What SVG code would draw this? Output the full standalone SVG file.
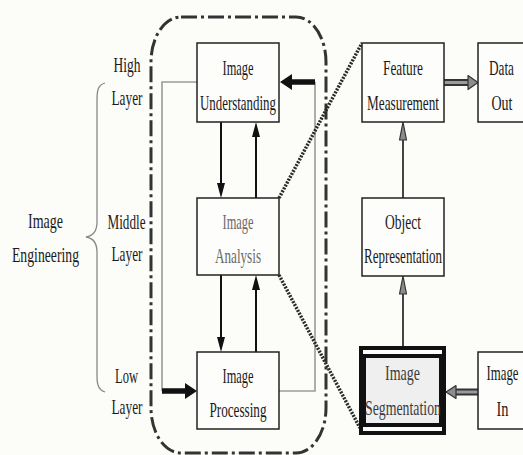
<svg xmlns="http://www.w3.org/2000/svg" width="523" height="455" viewBox="0 0 523 455">
<defs>
<style>
.box{fill:#fdfdfb;stroke:#222;stroke-width:1.5}
.t{font-family:"Liberation Serif","Times New Roman",serif;font-size:21px;text-anchor:middle;fill:#1a1a1a}
.ta{fill:#6a6a6a}
.ts{fill:#3c3c3c}
.gl{fill:none;stroke:#9a9a9a;stroke-width:1.6}
.bl{fill:none;stroke:#111;stroke-width:2}
.thk{fill:none;stroke:#111;stroke-width:5.5}
.gr{fill:none;stroke:#444;stroke-width:2}
.dot{fill:none;stroke:#2a2a2a;stroke-width:3.5;stroke-dasharray:2 1.3}
.dbo{fill:none;stroke:#333;stroke-width:7}
.dbi{fill:none;stroke:#9a9a9a;stroke-width:3}
.ghead{fill:#8c8c8c;stroke:#333;stroke-width:1.2;stroke-linejoin:round}
</style>
<marker id="ab" markerUnits="userSpaceOnUse" markerWidth="15" markerHeight="8" refX="7" refY="4" orient="auto">
<path d="M0,0 L15,4 L0,8 z" fill="#111"/>
</marker>
<marker id="ag" markerUnits="userSpaceOnUse" markerWidth="20" markerHeight="10" refX="9" refY="5" orient="auto">
<path d="M1,1.5 L19,5 L1,8.5 z" fill="#8c8c8c" stroke="#333" stroke-width="1.2" stroke-linejoin="round"/>
</marker>
</defs>
<rect x="0" y="0" width="523" height="455" fill="#fcfcf9"/>

<g id="frame">
<rect x="151" y="17" width="175" height="436" rx="30" ry="45" fill="none" stroke="#333" stroke-width="3" stroke-dasharray="16 4 3 4"/>
</g>

<g id="brace">
<path d="M105,83 C98,85 97,90 97,100 L97,222 C97,232 92,236 86,237 C92,238 97,242 97,252 L97,376 C97,386 99,390 105,392" fill="none" stroke="#888" stroke-width="1.3"/>
</g>

<g id="labels">
<text class="t" x="45.5" y="228" textLength="35" lengthAdjust="spacingAndGlyphs">Image</text>
<text class="t" x="45.5" y="262" textLength="67" lengthAdjust="spacingAndGlyphs">Engineering</text>
<text class="t" x="127" y="72" textLength="27" lengthAdjust="spacingAndGlyphs">High</text>
<text class="t" x="127" y="105" textLength="31" lengthAdjust="spacingAndGlyphs">Layer</text>
<text class="t" x="126.5" y="229" textLength="38" lengthAdjust="spacingAndGlyphs">Middle</text>
<text class="t" x="127" y="261" textLength="31" lengthAdjust="spacingAndGlyphs">Layer</text>
<text class="t" x="126.5" y="383" textLength="23" lengthAdjust="spacingAndGlyphs">Low</text>
<text class="t" x="127" y="414" textLength="31" lengthAdjust="spacingAndGlyphs">Layer</text>
</g>

<g id="connectors">
<polyline class="gl" points="197,82 162,82 162,391"/>
<polyline class="gl" points="279,391 315,391 315,82"/>
<line class="thk" x1="162" y1="391" x2="188" y2="391"/>
<polygon points="185,383 197,391 185,399" fill="#111"/>
<line class="thk" x1="315" y1="82" x2="290" y2="82"/>
<polygon points="292,74 280,82 292,90" fill="#111"/>
<line class="bl" x1="221" y1="122" x2="221" y2="190" marker-end="url(#ab)"/>
<line class="bl" x1="256" y1="198" x2="256" y2="130" marker-end="url(#ab)"/>
<line class="bl" x1="221" y1="275" x2="221" y2="344" marker-end="url(#ab)"/>
<line class="bl" x1="256" y1="352" x2="256" y2="283" marker-end="url(#ab)"/>
<line class="dot" x1="279" y1="198" x2="362" y2="43"/>
<line class="dot" x1="279" y1="275" x2="360" y2="428"/>
<line class="gr" x1="403" y1="198" x2="403" y2="132" marker-end="url(#ag)"/>
<line class="gr" x1="403" y1="346" x2="403" y2="286" marker-end="url(#ag)"/>
<line class="dbo" x1="444" y1="82.5" x2="470" y2="82.5"/>
<line class="dbi" x1="444" y1="82.5" x2="470" y2="82.5"/>
<polygon class="ghead" points="468,75.5 478,82.5 468,89.5"/>
<line class="dbo" x1="478" y1="392" x2="454" y2="392"/>
<line class="dbi" x1="478" y1="392" x2="454" y2="392"/>
<polygon class="ghead" points="456,385.5 446,392 456,398.5"/>
</g>

<g id="n-understanding">
<rect class="box" x="197" y="43" width="82" height="79"/>
<text class="t" x="238" y="75" textLength="31" lengthAdjust="spacingAndGlyphs">Image</text>
<text class="t" x="238" y="110" textLength="76" lengthAdjust="spacingAndGlyphs">Understanding</text>
</g>
<g id="n-analysis">
<rect class="box" x="197" y="198" width="82" height="77"/>
<text class="t ta" x="238" y="229" textLength="31" lengthAdjust="spacingAndGlyphs">Image</text>
<text class="t ta" x="238" y="263" textLength="46" lengthAdjust="spacingAndGlyphs">Analysis</text>
</g>
<g id="n-processing">
<rect class="box" x="197" y="352" width="82" height="77"/>
<text class="t" x="238" y="383" textLength="31" lengthAdjust="spacingAndGlyphs">Image</text>
<text class="t" x="238" y="417" textLength="57" lengthAdjust="spacingAndGlyphs">Processing</text>
</g>
<g id="n-feature">
<rect class="box" x="362" y="43" width="82" height="79"/>
<text class="t" x="403" y="75" textLength="40" lengthAdjust="spacingAndGlyphs">Feature</text>
<text class="t" x="403" y="110" textLength="72" lengthAdjust="spacingAndGlyphs">Measurement</text>
</g>
<g id="n-dataout">
<rect class="box" x="478" y="43" width="50" height="79"/>
<text class="t" x="501.5" y="75" textLength="25" lengthAdjust="spacingAndGlyphs">Data</text>
<text class="t" x="502" y="110" textLength="21" lengthAdjust="spacingAndGlyphs">Out</text>
</g>
<g id="n-object">
<rect class="box" x="362" y="198" width="82" height="78"/>
<text class="t" x="403" y="229" textLength="36" lengthAdjust="spacingAndGlyphs">Object</text>
<text class="t" x="403" y="263" textLength="78" lengthAdjust="spacingAndGlyphs">Representation</text>
</g>
<g id="n-segmentation">
<rect x="361" y="348" width="83" height="85" fill="#fdfdfb" stroke="#111" stroke-width="4"/>
<rect x="364" y="356" width="77" height="69" fill="#efeff0" stroke="#111" stroke-width="4"/>
<text class="t ts" x="402.5" y="380" textLength="35" lengthAdjust="spacingAndGlyphs">Image</text>
<text class="t ts" x="403" y="415" textLength="76" lengthAdjust="spacingAndGlyphs">Segmentation</text>
</g>
<g id="n-imagein">
<rect class="box" x="478" y="352" width="50" height="77"/>
<text class="t" x="502.5" y="380" textLength="32" lengthAdjust="spacingAndGlyphs">Image</text>
<text class="t" x="502.5" y="416" textLength="12" lengthAdjust="spacingAndGlyphs">In</text>
</g>
</svg>
